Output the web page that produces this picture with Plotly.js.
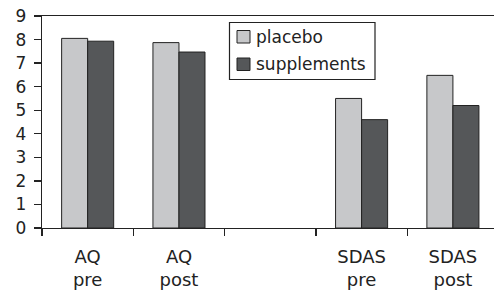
<!DOCTYPE html>
<html><head><meta charset="utf-8">
<script src="https://cdn.plot.ly/plotly-3.0.1.min.js"></script>
<style>html,body{margin:0;padding:0;background:#fff}#chart{width:494px;height:296px}</style>
</head><body><div id="chart"></div>
<script>
var categories = ["AQ<br>pre", "AQ<br>post", " ", "SDAS<br>pre", "SDAS<br>post"];
var placebo = [8.05, 7.87, null, 5.5, 6.48];
var supplements = [7.93, 7.47, null, 4.6, 5.2];
var seriesNames = ["placebo", "supplements"];
var yTicks = [0,1,2,3,4,5,6,7,8,9];

var fontFam = "DejaVu Sans, Liberation Sans, Arial, sans-serif";
var colPl = "#c7c8ca", colSu = "#555759", edge = "#222222";

var traces = [
  {type:"bar", name:seriesNames[0], x:categories, y:placebo, marker:{color:colPl, line:{color:edge, width:1}}, showlegend:false},
  {type:"bar", name:seriesNames[1], x:categories, y:supplements, marker:{color:colSu, line:{color:edge, width:1}}, showlegend:false}
];

// manual legend (paper coords); plot area: x 42..494, y 16..228
function px(x){return (x-42)/452;}
function py(y){return (228-y)/212;}
var shapes = [
  {type:"rect", xref:"paper", yref:"paper", x0:px(229.5), x1:px(375), y0:py(79.5), y1:py(22.5), line:{color:edge,width:1.2}, fillcolor:"#fff", layer:"above"},
  {type:"rect", xref:"paper", yref:"paper", x0:px(237), x1:px(250), y0:py(43), y1:py(30.5), line:{color:edge,width:1}, fillcolor:colPl, layer:"above"},
  {type:"rect", xref:"paper", yref:"paper", x0:px(237), x1:px(250), y0:py(70.5), y1:py(58), line:{color:edge,width:1}, fillcolor:colSu, layer:"above"}
];
var annotations = [
  {xref:"paper", yref:"paper", x:px(254), y:py(37), xanchor:"left", yanchor:"middle", text:seriesNames[0], showarrow:false, font:{family:fontFam, size:17, color:"#222"}},
  {xref:"paper", yref:"paper", x:px(254), y:py(64), xanchor:"left", yanchor:"middle", text:seriesNames[1], showarrow:false, font:{family:fontFam, size:17, color:"#222"}}
];

var layout = {
  width:494, height:296,
  margin:{l:42, r:0, t:16, b:68, pad:0},
  paper_bgcolor:"#fff", plot_bgcolor:"#fff",
  barmode:"group", bargap:0.43, bargroupgap:0,
  font:{family:fontFam, size:17, color:"#222"},
  xaxis:{type:"category", range:[-0.5, 4.45], showline:true, linecolor:edge, linewidth:1.3, mirror:true,
         ticks:"outside", tickson:"boundaries", ticklen:7, tickcolor:edge, tickwidth:1.3, ticklabelstandoff:12,
         showgrid:false, zeroline:false, tickfont:{family:fontFam, size:18, color:"#222"}},
  yaxis:{range:[0,9], tickvals:yTicks, ticktext:yTicks.map(String), showline:true, linecolor:edge, linewidth:1.3,
         ticks:"outside", ticklen:7, tickcolor:edge, tickwidth:1.3, ticklabelstandoff:4, showgrid:false, zeroline:false,
         tickfont:{family:fontFam, size:17, color:"#222"}},
  shapes:shapes, annotations:annotations
};
Plotly.newPlot("chart", traces, layout, {displayModeBar:false, staticPlot:true});
</script></body></html>
